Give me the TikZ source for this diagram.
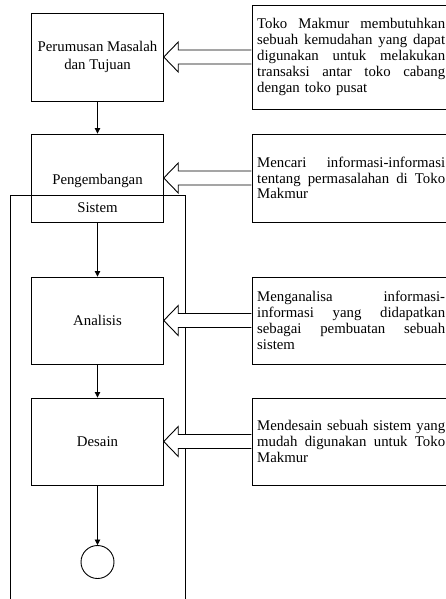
\documentclass[tikz,border=0pt]{standalone}
\usepackage{fontspec}
\setmainfont{Liberation Serif}
\usetikzlibrary{arrows.meta,calc,backgrounds}
\newcommand\jl[1]{\leavevmode\hbox to 188pt{\spaceskip=3.7pt plus 1fil\relax\xspaceskip=3.7pt plus 1fil\relax #1}}
\newcommand\hollowarr[2]{%
  \draw[harrow] let \p1=(#2.east), \p2=(#1.west) in
    (\x2-0.45pt,\y1+7pt) -- (\x1+14.5pt,\y1+7pt) -- (\x1+14.5pt,\y1+15pt) -- (\x1,\y1)
    -- (\x1+14.5pt,\y1-15pt) -- (\x1+14.5pt,\y1-7pt) -- (\x2-0.45pt,\y1-7pt);
}
\tikzset{
  lbox/.style={draw, line width=0.9pt, minimum width=131.6pt, inner sep=0pt,
    font=\fontsize{14.8}{17.5}\selectfont, align=center},
  rbox/.style={draw, line width=0.9pt, anchor=west, text width=188pt,
    inner xsep=5pt, inner ysep=0pt, align=left,
    font=\fontsize{14.8}{15.8}\selectfont},
  lbl/.style={font=\fontsize{14.8}{17.5}\selectfont, inner sep=0pt},
  flow/.style={line width=0.8pt, -{Triangle[width=5.5pt,length=5.5pt]}},
  harrow/.style={draw, line width=0.9pt, fill=white, line join=miter},
  endc/.style={draw, circle, line width=0.9pt, minimum size=33pt, inner sep=0pt},
}
\begin{document}
\begin{tikzpicture}[x=1pt,y=-1pt]
\useasboundingbox (0,0) rectangle (446,599);
% left column
\node[lbox, minimum height=88pt] (b1) at (97.5,57) {Perumusan Masalah\\dan Tujuan};
\node[lbox, minimum height=88pt] (b2) at (97.5,178) {};
\node[lbl] (b2a) at (97.5,181) {Pengembangan};
\node[lbl] (b2b) at (97.5,208) {Sistem};
\node[lbox, minimum height=87pt] (b3) at (97.5,320.5) {Analisis};
\node[lbox, minimum height=87pt] (b4) at (97.5,441.5) {Desain};
\node[endc] (c) at (97.5,562) {};
% right column
\node[rbox, minimum height=104pt] (r1) at (251.7,57)
  {\jl{Toko Makmur membutuhkan}\\\jl{sebuah kemudahan yang dapat}\\\jl{digunakan untuk melakukan}\\\jl{transaksi antar toko cabang}\\dengan toko pusat};
\node[rbox, minimum height=88pt] (r2) at (251.7,178)
  {\jl{Mencari informasi-informasi}\\\jl{tentang permasalahan di Toko}\\Makmur};
\node[rbox, minimum height=87pt] (r3) at (251.7,320.5)
  {\jl{Menganalisa informasi-}\\\jl{informasi yang didapatkan}\\\jl{sebagai pembuatan sebuah}\\sistem};
\node[rbox, minimum height=87pt] (r4) at (251.7,441.5)
  {\jl{Mendesain sebuah sistem yang}\\\jl{mudah digunakan untuk Toko}\\Makmur};
% flow
\draw[flow] (b1) -- (b2);
\draw[flow] (b2) -- (b3);
\draw[flow] (b3) -- (b4);
\draw[flow] (b4) -- (c);
% big frame
\begin{pgfonlayer}{background}
\draw[line width=0.9pt] (10,605) -- (10,195) -- (185.7,195) -- (185.7,605);
\end{pgfonlayer}
% hollow arrows
\hollowarr{r1}{b1}
\hollowarr{r2}{b2}
\hollowarr{r3}{b3}
\hollowarr{r4}{b4}
\end{tikzpicture}
\end{document}
